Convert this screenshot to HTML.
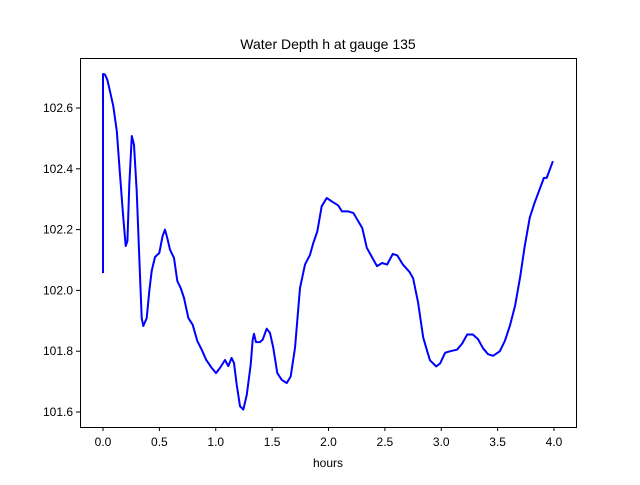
<!DOCTYPE html>
<html><head><meta charset="utf-8"><style>
body{margin:0;background:#fff}
svg text{font-family:"Liberation Sans","DejaVu Sans",sans-serif;fill:#000}
</style></head><body>
<svg id="chart" width="640" height="480" viewBox="0 0 640 480" xmlns="http://www.w3.org/2000/svg">
<rect width="640" height="480" fill="#fff"/>
<text x="328" y="49" font-size="14" text-anchor="middle">Water Depth h at gauge 135</text>
<text x="328" y="467" font-size="12" text-anchor="middle">hours</text>
<g id="ticks"></g>
<path id="series" fill="none" stroke="#0000ff" stroke-width="2" stroke-linejoin="round"/>
<rect x="80.5" y="58.5" width="496" height="369" fill="none" stroke="#000" stroke-width="1"/>
</svg>
<script>
const hours=[0,0,0.018,0.038,0.062,0.091,0.122,0.151,0.18,0.201,0.216,0.233,0.255,0.275,0.299,0.322,0.343,0.357,0.388,0.411,0.432,0.461,0.499,0.529,0.55,0.57,0.594,0.63,0.659,0.689,0.718,0.757,0.796,0.836,0.875,0.914,0.964,1.002,1.038,1.082,1.111,1.141,1.162,1.186,1.215,1.244,1.275,1.31,1.328,1.339,1.357,1.392,1.416,1.452,1.481,1.51,1.546,1.585,1.629,1.665,1.703,1.747,1.792,1.836,1.865,1.901,1.94,1.984,2.04,2.085,2.12,2.175,2.22,2.26,2.30,2.34,2.385,2.43,2.475,2.52,2.57,2.61,2.66,2.72,2.75,2.795,2.84,2.875,2.90,2.955,2.99,3.035,3.08,3.14,3.185,3.23,3.28,3.325,3.37,3.415,3.46,3.52,3.565,3.61,3.655,3.70,3.74,3.785,3.83,3.875,3.91,3.935,3.99];
const depth=[102.057,102.712,102.71,102.693,102.655,102.606,102.524,102.381,102.238,102.146,102.162,102.348,102.508,102.479,102.327,102.107,101.909,101.883,101.909,101.998,102.064,102.11,102.123,102.179,102.2,102.172,102.134,102.107,102.031,102.008,101.975,101.909,101.887,101.834,101.805,101.772,101.745,101.728,101.745,101.771,101.751,101.778,101.761,101.69,101.619,101.608,101.657,101.756,101.838,101.857,101.83,101.83,101.838,101.874,101.86,101.811,101.728,101.706,101.695,101.717,101.811,102.008,102.085,102.117,102.156,102.194,102.277,102.304,102.29,102.28,102.26,102.26,102.255,102.23,102.205,102.14,102.11,102.08,102.09,102.085,102.12,102.115,102.085,102.06,102.04,101.96,101.845,101.80,101.77,101.75,101.76,101.795,101.80,101.805,101.825,101.855,101.855,101.84,101.81,101.79,101.785,101.80,101.835,101.885,101.95,102.045,102.145,102.24,102.29,102.335,102.37,102.37,102.425];
const xTicks=[0,0.5,1,1.5,2,2.5,3,3.5,4];
const xTickLabels=["0.0","0.5","1.0","1.5","2.0","2.5","3.0","3.5","4.0"];
const yTicks=[101.6,101.8,102.0,102.2,102.4,102.6];
const yTickLabels=["101.6","101.8","102.0","102.2","102.4","102.6"];
const xs=h=>103+h*112.75;
const ys=v=>412-(v-101.6)*304;
const NS="http://www.w3.org/2000/svg";
const g=document.getElementById('ticks');
xTicks.forEach((t,i)=>{
  const l=document.createElementNS(NS,'line');
  l.setAttribute('x1',xs(t));l.setAttribute('x2',xs(t));l.setAttribute('y1',427);l.setAttribute('y2',431);l.setAttribute('stroke','#000');
  
  
  g.appendChild(l);
  const tx=document.createElementNS(NS,'text');
  tx.setAttribute('x',xs(t));tx.setAttribute('y',446);tx.setAttribute('font-size','12');tx.setAttribute('text-anchor','middle');
  tx.textContent=xTickLabels[i];
  
  
  g.appendChild(tx);
});
yTicks.forEach((t,i)=>{
  const l=document.createElementNS(NS,'line');
  l.setAttribute('x1',76);l.setAttribute('x2',80);l.setAttribute('y1',ys(t));l.setAttribute('y2',ys(t));l.setAttribute('stroke','#000');
  
  
  g.appendChild(l);
  const tx=document.createElementNS(NS,'text');
  tx.setAttribute('x',73);tx.setAttribute('y',ys(t)+4);tx.setAttribute('font-size','12');tx.setAttribute('text-anchor','end');
  tx.textContent=yTickLabels[i];
  
  
  g.appendChild(tx);
});
document.getElementById('series').setAttribute('d',hours.map((h,i)=>(i?'L':'M')+xs(h).toFixed(1)+','+ys(depth[i]).toFixed(1)).join(''));
</script>
</body></html>
